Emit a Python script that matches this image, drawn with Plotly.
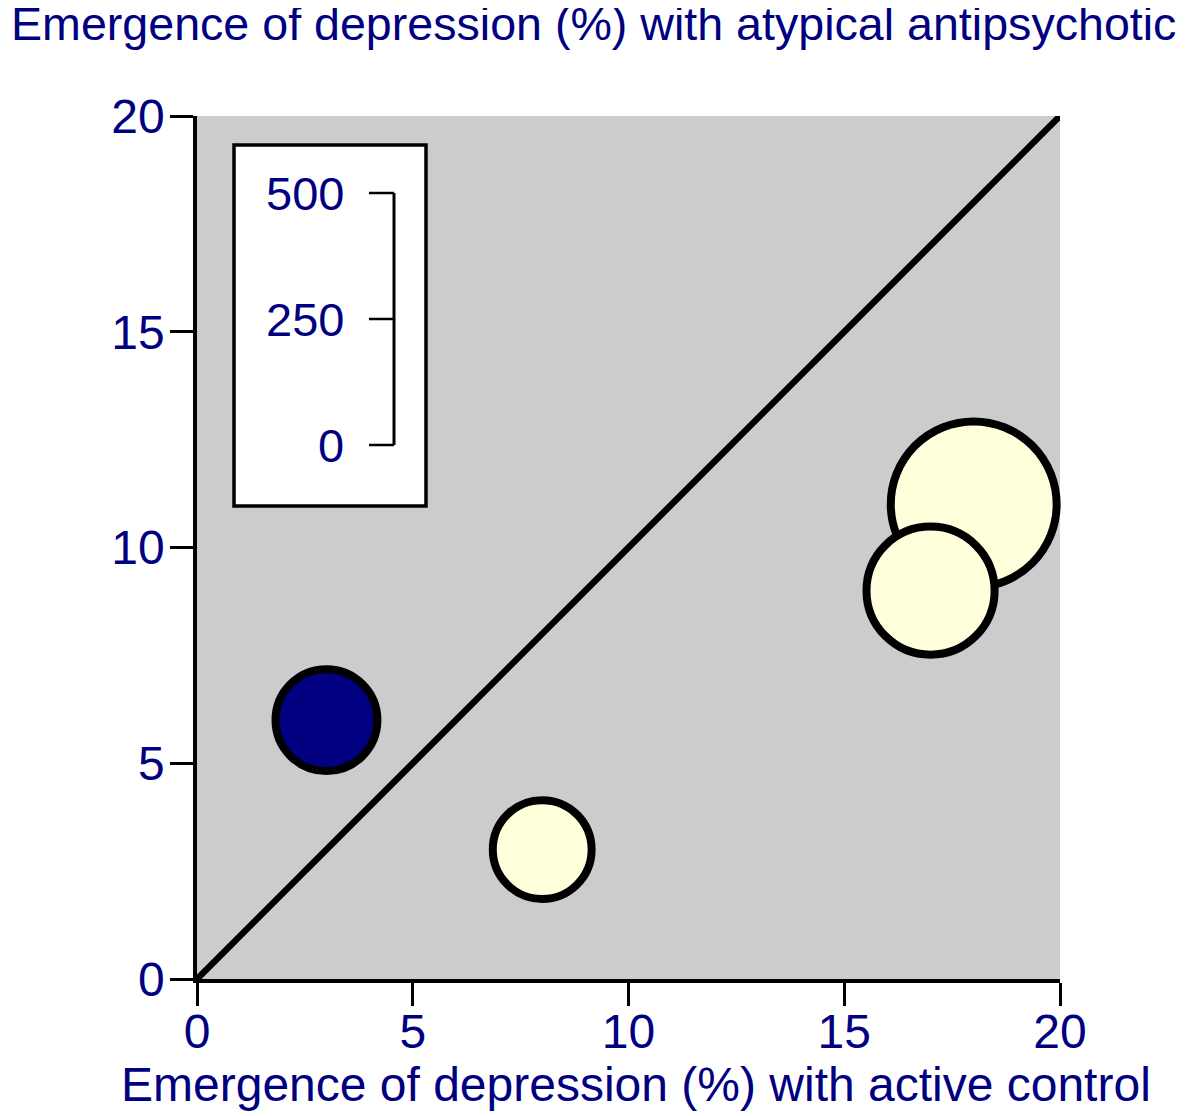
import plotly.graph_objects as go

# ---- data ----
active_control = [3, 8, 18, 17]          # x: emergence of depression (%) with active control
atypical = [6, 3, 11, 9]                 # y: emergence of depression (%) with atypical antipsychotic
sample_size = [218, 212, 345, 270]       # bubble size (patients)
fill_colors = ["#000080", "#ffffdc", "#ffffdc", "#ffffdc"]
axis_ticks = [0, 5, 10, 15, 20]
size_legend_vals = [0, 250, 500]

NAVY = "#000080"
FONT = "Liberation Sans, Arial, Helvetica, sans-serif"

# page body margin offset (browser default)
OFF = 8
# screen geometry (pixels)
SW, SH = 1200, 1116
PL, PR, PT, PB = 197, 1060, 116, 979      # plot area on screen
W, H = SW - OFF, SH - OFF
L, T = PL - OFF, PT - OFF
R = W - (PR - OFF)
B = H - (PB - OFF)
plot_w = PR - PL
plot_h = PB - PT
px_per_unit = plot_h / 20.0

# size scale: 500 patients <-> legend bracket length in pixels
bracket_px = 252
px_per_patient = bracket_px / 500.0
line_w = 8
marker_sizes = [n * px_per_patient - line_w for n in sample_size]

fig = go.Figure()

# identity line
fig.add_trace(go.Scatter(
    x=[axis_ticks[0], axis_ticks[-1]], y=[axis_ticks[0], axis_ticks[-1]],
    mode="lines", line=dict(color="black", width=6.5),
    hoverinfo="skip", showlegend=False, cliponaxis=False))

# bubbles
fig.add_trace(go.Scatter(
    x=active_control, y=atypical, mode="markers",
    marker=dict(size=marker_sizes, sizemode="diameter", color=fill_colors,
                line=dict(color="black", width=line_w), opacity=1),
    showlegend=False, cliponaxis=False))

# ---- helpers: screen pixel -> data / paper ----
def px2x(px):
    return (px - PL) / px_per_unit

def py2y(py):
    return (PB - py) / px_per_unit

def px2paper(px):
    return (px - PL) / plot_w

def py2paper(py):
    return (PB - py) / plot_h

# ---- size legend box ----
shapes = [dict(type="rect", xref="x", yref="y",
               x0=px2x(234), x1=px2x(426), y0=py2y(506), y1=py2y(145),
               fillcolor="white", line=dict(color="black", width=3.5), layer="below")]

bracket_x = px2x(394)
tick_left = px2x(369)
base_py = 445
annotations = []
for v in size_legend_vals:
    yy = py2y(base_py - v * px_per_patient)
    shapes.append(dict(type="line", xref="x", yref="y", x0=tick_left, x1=bracket_x,
                       y0=yy, y1=yy, line=dict(color="black", width=2.5), layer="above"))
    annotations.append(dict(x=px2x(346), y=yy, xref="x", yref="y", text=str(v),
                            showarrow=False, xanchor="right", yanchor="middle",
                            font=dict(size=47, color=NAVY, family=FONT)))
shapes.append(dict(type="line", xref="x", yref="y", x0=bracket_x, x1=bracket_x,
                   y0=py2y(base_py), y1=py2y(base_py - size_legend_vals[-1] * px_per_patient),
                   line=dict(color="black", width=3), layer="above"))

# titles
annotations.append(dict(x=px2paper(OFF + 1), y=py2paper(24), xref="paper", yref="paper",
                        text="Emergence of depression (%) with atypical antipsychotic",
                        showarrow=False, xanchor="left", yanchor="middle",
                        font=dict(size=46.6, color=NAVY, family=FONT)))
annotations.append(dict(x=px2paper(636), y=py2paper(1084), xref="paper", yref="paper",
                        text="Emergence of depression (%) with active control",
                        showarrow=False, xanchor="center", yanchor="middle",
                        font=dict(size=48, color=NAVY, family=FONT)))

axis_common = dict(range=[0, 20], tickvals=axis_ticks, showgrid=False, zeroline=False,
                   showline=True, linecolor="black", linewidth=3.5,
                   ticks="outside", ticklen=23, tickwidth=3, tickcolor="black",
                   tickfont=dict(size=48, color=NAVY, family=FONT), fixedrange=True)

fig.update_layout(
    width=W, height=H,
    margin=dict(l=L, r=R, t=T, b=B, autoexpand=False),
    paper_bgcolor="white", plot_bgcolor="#cccccc",
    xaxis=dict(axis_common, ticklabelstandoff=-15),
    yaxis=dict(axis_common, ticklabelstandoff=-4),
    shapes=shapes, annotations=annotations,
    showlegend=False,
)

fig.write_html("out.html")
